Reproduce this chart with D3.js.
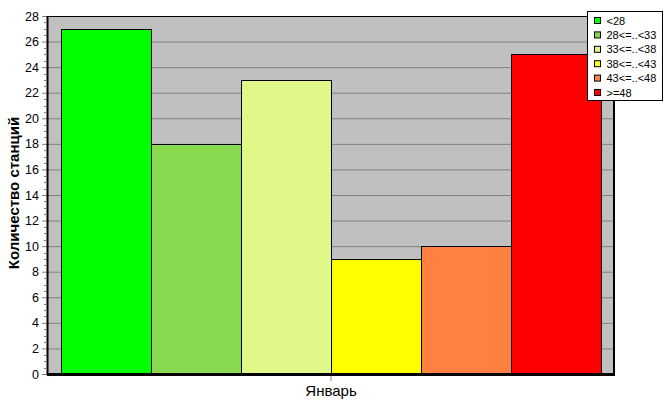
<!DOCTYPE html>
<html><head><meta charset="utf-8">
<script src="https://cdn.jsdelivr.net/npm/d3@7"></script>
<style>body{margin:0;background:#fff}svg{display:block}text{font-family:"Liberation Sans",Arial,sans-serif}</style>
</head><body>
<svg id="c" width="667" height="415"></svg>
<script>
const categories = ["Январь"];
const seriesNames = ["<28", "28<=..<33", "33<=..<38", "38<=..<43", "43<=..<48", ">=48"];
const seriesValues = [27, 18, 23, 9, 10, 25];
const seriesColors = ["#00ff00", "#88d850", "#e0f888", "#ffff00", "#ff8040", "#ff0000"];
const yTicks = [0,2,4,6,8,10,12,14,16,18,20,22,24,26,28];
const yTitle = "Количество станций";

const svg = d3.select("#c");
const L = 48, R = 614, T = 16, B = 374;
const y = d3.scaleLinear().domain([0, 28]).range([B, T]);
const x0 = d3.scaleBand().domain(categories).range([L, R]).paddingInner(0).paddingOuter(13/540);
const x1 = d3.scaleBand().domain(seriesNames).range([0, x0.bandwidth()]).padding(0);

svg.append("rect").attr("x", L).attr("y", T).attr("width", R - L).attr("height", B - T).attr("fill", "#c0c0c0");

// gridlines
svg.append("g").selectAll("line").data(yTicks.filter(d => d > 0 && d < 28)).join("line")
  .attr("x1", L).attr("x2", R).attr("y1", d => y(d) + 0.5).attr("y2", d => y(d) + 0.5)
  .attr("stroke", "#808080").attr("stroke-width", 1);

// bars
const g = svg.append("g").attr("transform", `translate(${x0(categories[0])},0)`);
g.selectAll("rect").data(seriesValues).join("rect")
  .attr("x", (d, i) => x1(seriesNames[i]) + 0.5)
  .attr("y", d => Math.round(y(d)) + 0.5)
  .attr("width", x1.bandwidth())
  .attr("height", d => B - Math.round(y(d)))
  .attr("fill", (d, i) => seriesColors[i])
  .attr("stroke", "#000").attr("stroke-width", 1);

// frame
svg.append("line").attr("x1", L).attr("x2", R).attr("y1", T + 0.5).attr("y2", T + 0.5).attr("stroke", "#000");
svg.append("line").attr("x1", R).attr("x2", R).attr("y1", T).attr("y2", B).attr("stroke", "#000").attr("stroke-width", 2);

// y axis
const yAxis = d3.axisLeft(y).tickValues(yTicks).tickSize(5).tickPadding(3).tickFormat(d3.format("d"));
const ya = svg.append("g").attr("transform", `translate(${L - 1},0)`).call(yAxis);
ya.select(".domain").remove();
ya.selectAll(".tick line").attr("stroke", "#808080");
ya.selectAll(".tick text").attr("font-size", 12.5).attr("fill", "#000").attr("font-family", "\"Liberation Sans\",Arial,sans-serif");
// minor ticks
const minor = d3.range(0, 28.01, 0.5).filter(v => v % 2 !== 0);
svg.append("g").selectAll("line").data(minor).join("line")
  .attr("x1", L - 4).attr("x2", L - 2).attr("y1", d => Math.round(y(d)) + 0.5).attr("y2", d => Math.round(y(d)) + 0.5)
  .attr("stroke", "#808080");
svg.append("line").attr("x1", L - 0.5).attr("x2", L - 0.5).attr("y1", T).attr("y2", B + 1).attr("stroke", "#000").attr("stroke-width", 2);

// x axis
const xAxis = d3.axisBottom(x0).tickSize(7).tickPadding(4);
const xa = svg.append("g").attr("transform", `translate(0,${B})`).call(xAxis);
xa.select(".domain").remove();
xa.selectAll(".tick line").attr("stroke", "#808080");
xa.selectAll(".tick text").attr("font-size", 15).attr("fill", "#000").attr("font-family", "\"Liberation Sans\",Arial,sans-serif");
svg.append("line").attr("x1", L - 1).attr("x2", R + 1).attr("y1", B + 0.5).attr("y2", B + 0.5).attr("stroke", "#000").attr("stroke-width", 3);

// y title
svg.append("text").attr("transform", `translate(19,193) rotate(-90)`)
  .attr("text-anchor", "middle").attr("font-size", 15).attr("font-weight", "bold").text(yTitle);

// legend
const lg = svg.append("g").attr("transform", "translate(587.5,11.5)");
lg.append("rect").attr("width", 75).attr("height", 89).attr("fill", "#fff").attr("stroke", "#000");
const items = lg.selectAll("g").data(seriesNames).join("g")
  .attr("transform", (d, i) => `translate(7,${6 + i * 14.4})`);
items.append("rect").attr("width", 6).attr("height", 6).attr("fill", (d, i) => seriesColors[i]).attr("stroke", "#000");
items.append("text").attr("x", 12).attr("y", 7).attr("font-size", 11).text(d => d);
</script>
</body></html>
